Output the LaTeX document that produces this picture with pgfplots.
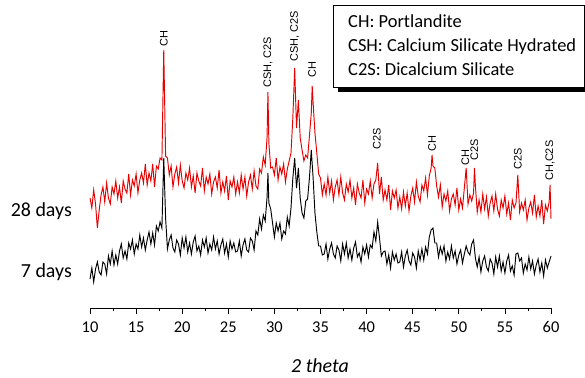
\documentclass[border=0pt]{standalone}
\usepackage{pgfplots}
\pgfplotsset{compat=1.18}
\usepackage{fontspec}
\setmainfont{Carlito}
\newfontfamily\annfont{Liberation Sans}
\definecolor{xrdred}{RGB}{232,0,0}
\begin{document}
\begin{tikzpicture}
\path[use as bounding box] (0,0) rectangle (585bp,378bp);
\begin{axis}[
  at={(90bp,70bp)}, anchor=south west,
  scale only axis, width=461bp, height=308bp,
  xmin=10, xmax=60, ymin=0, ymax=308,
  axis x line*=bottom, axis y line=none,
  axis line style={-, line width=0.8pt, black},
  xtick={10,15,...,60}, minor x tick num=1,
  tick align=outside, major tick length=6bp, minor tick length=3bp,
  tick style={black, line width=0.8pt},
  tick label style={font=\fontsize{16.5}{18}\selectfont},
  xticklabel style={yshift=-4bp},
  /pgf/number format/assume math mode=true,
  clip=false,
]
\addplot[xrdred, line width=0.95pt] coordinates {
(10.0,110)(10.2,100)(10.4,118)(10.6,104)(10.8,80)(11.0,98)(11.2,113)(11.4,121)(11.6,106)(11.8,125)(12.0,110)(12.2,104)(12.4,121)(12.6,114)(12.8,127)(13.0,110)(13.2,121)(13.4,105)(13.6,127)(13.8,119)(14.0,115)(14.2,134)(14.4,113)(14.6,128)(14.8,122)(15.0,134)(15.2,115)(15.4,128)(15.6,135)(15.8,125)(16.0,144)(16.2,123)(16.4,135)(16.6,127)(16.8,144)(17.0,121)(17.2,142)(17.4,139)(17.6,150)(17.8,148)(18.0,258)(18.2,152)(18.4,150)(18.6,133)(18.8,142)(19.0,121)(19.2,134)(19.4,141)(19.6,125)(19.8,143)(20.0,127)(20.2,120)(20.4,135)(20.6,128)(20.8,140)(21.0,121)(21.2,132)(21.4,115)(21.6,135)(21.8,127)(22.0,122)(22.2,140)(22.4,117)(22.6,131)(22.8,124)(23.0,134)(23.2,114)(23.4,126)(23.6,131)(23.8,120)(24.0,138)(24.2,115)(24.4,126)(24.6,117)(24.8,132)(25.0,108)(25.2,127)(25.4,121)(25.6,131)(25.8,114)(26.0,126)(26.2,115)(26.4,133)(26.6,119)(26.8,131)(27.0,112)(27.2,126)(27.4,133)(27.6,119)(27.8,137)(28.0,122)(28.2,119)(28.4,139)(28.6,135)(28.8,151)(29.0,143)(29.2,170)(29.3,216)(29.4,165)(29.6,140)(29.8,141)(30.0,133)(30.2,150)(30.4,128)(30.6,141)(30.8,134)(31.0,144)(31.2,126)(31.4,139)(31.6,147)(31.8,155)(32.0,190)(32.2,240)(32.4,180)(32.6,208)(32.8,170)(33.0,158)(33.2,147)(33.4,153)(33.6,150)(33.8,172)(34.0,195)(34.1,222)(34.2,205)(34.4,175)(34.6,155)(34.8,134)(35.0,130)(35.2,113)(35.4,124)(35.6,113)(35.8,131)(36.0,115)(36.2,127)(36.4,108)(36.6,121)(36.8,128)(37.0,113)(37.2,131)(37.4,115)(37.6,108)(37.8,124)(38.0,116)(38.2,128)(38.4,110)(38.6,120)(38.8,103)(39.0,124)(39.2,115)(39.4,110)(39.6,128)(39.8,105)(40.0,119)(40.2,114)(40.4,127)(40.6,110)(40.8,124)(41.0,128)(41.2,145)(41.4,114)(41.6,131)(41.8,108)(42.0,118)(42.2,108)(42.4,123)(42.6,98)(42.8,117)(43.0,110)(43.2,118)(43.4,100)(43.6,111)(43.8,99)(44.0,116)(44.2,102)(44.4,115)(44.6,97)(44.8,112)(45.0,120)(45.2,106)(45.4,126)(45.6,112)(45.8,106)(46.0,123)(46.2,117)(46.4,130)(46.6,113)(46.8,132)(47.0,140)(47.1,153)(47.2,142)(47.4,140)(47.6,122)(47.8,111)(48.0,123)(48.2,101)(48.4,114)(48.6,107)(48.8,117)(49.0,97)(49.2,109)(49.4,114)(49.6,103)(49.8,120)(50.0,98)(50.2,109)(50.4,100)(50.6,120)(50.8,140)(51.0,104)(51.2,113)(51.4,107)(51.6,115)(51.7,140)(51.8,122)(52.0,96)(52.2,108)(52.4,96)(52.6,114)(52.8,99)(53.0,111)(53.2,92)(53.4,105)(53.6,112)(53.8,97)(54.0,114)(54.2,99)(54.4,92)(54.6,108)(54.8,100)(55.0,112)(55.2,94)(55.4,105)(55.6,88)(55.8,108)(56.0,100)(56.2,105)(56.4,133)(56.6,96)(56.8,105)(57.0,98)(57.2,108)(57.4,88)(57.6,100)(57.8,106)(58.0,95)(58.2,113)(58.4,91)(58.6,102)(58.8,92)(59.0,108)(59.2,84)(59.4,103)(59.6,97)(59.8,106)(59.9,123)(60.0,89)
};
\addplot[black, line width=0.95pt] coordinates {
(10.0,29)(10.2,40)(10.4,26)(10.6,39)(10.8,46)(11.0,36)(11.2,33)(11.4,46)(11.6,44)(11.8,34)(12.0,52)(12.2,44)(12.4,57)(12.6,43)(12.8,53)(13.0,44)(13.2,57)(13.4,64)(13.6,50)(13.8,57)(14.0,49)(14.2,65)(14.4,59)(14.6,68)(14.8,54)(15.0,64)(15.2,59)(15.4,73)(15.6,61)(15.8,70)(16.0,58)(16.2,68)(16.4,76)(16.6,64)(16.8,75)(17.0,63)(17.2,82)(17.4,77)(17.6,86)(17.8,80)(18.0,150)(18.2,90)(18.4,59)(18.6,68)(18.8,73)(19.0,60)(19.2,56)(19.4,68)(19.6,64)(19.8,53)(20.0,70)(20.2,60)(20.4,71)(20.6,56)(20.8,65)(21.0,54)(21.2,66)(21.4,72)(21.6,57)(21.8,62)(22.0,53)(22.2,68)(22.4,61)(22.6,70)(22.8,55)(23.0,64)(23.2,58)(23.4,71)(23.6,59)(23.8,67)(24.0,54)(24.2,63)(24.4,69)(24.6,55)(24.8,64)(25.0,51)(25.2,67)(25.4,59)(25.6,65)(25.8,56)(26.0,57)(26.2,67)(26.4,52)(26.6,63)(26.8,69)(27.0,58)(27.2,56)(27.4,70)(27.6,67)(27.8,58)(28.0,77)(28.2,73)(28.4,89)(28.6,79)(28.8,93)(29.0,87)(29.2,110)(29.3,135)(29.4,105)(29.6,99)(29.8,85)(30.0,71)(30.2,85)(30.4,77)(30.6,85)(30.8,69)(31.0,77)(31.2,74)(31.4,91)(31.6,82)(31.8,100)(32.0,130)(32.2,150)(32.4,120)(32.6,140)(32.8,110)(33.0,95)(33.2,90)(33.4,107)(33.6,109)(33.8,130)(34.0,158)(34.2,130)(34.4,95)(34.6,76)(34.8,62)(35.0,62)(35.2,53)(35.4,54)(35.6,64)(35.8,49)(36.0,59)(36.2,65)(36.4,54)(36.6,50)(36.8,62)(37.0,58)(37.2,47)(37.4,64)(37.6,54)(37.8,65)(38.0,50)(38.2,59)(38.4,48)(38.6,60)(38.8,66)(39.0,51)(39.2,55)(39.4,46)(39.6,61)(39.8,54)(40.0,63)(40.2,51)(40.4,63)(40.6,60)(40.8,76)(41.0,67)(41.2,86)(41.4,70)(41.6,52)(41.8,56)(42.0,57)(42.2,44)(42.4,53)(42.6,40)(42.8,56)(43.0,48)(43.2,54)(43.4,45)(43.6,46)(43.8,56)(44.0,41)(44.2,52)(44.4,58)(44.6,47)(44.8,43)(45.0,55)(45.2,51)(45.4,40)(45.6,57)(45.8,48)(46.0,59)(46.2,48)(46.4,61)(46.6,54)(46.8,71)(47.0,78)(47.2,80)(47.4,65)(47.6,65)(47.8,51)(48.0,61)(48.2,54)(48.4,62)(48.6,47)(48.8,56)(49.0,49)(49.2,62)(49.4,50)(49.6,57)(49.8,44)(50.0,53)(50.2,58)(50.4,45)(50.6,54)(50.8,62)(51.0,56)(51.2,53)(51.4,64)(51.6,68)(51.8,50)(52.0,41)(52.2,51)(52.4,36)(52.6,47)(52.8,52)(53.0,41)(53.2,37)(53.4,49)(53.6,45)(53.8,34)(54.0,51)(54.2,41)(54.4,52)(54.6,37)(54.8,46)(55.0,35)(55.2,47)(55.4,53)(55.6,37)(55.8,42)(56.0,33)(56.2,54)(56.4,55)(56.6,47)(56.8,50)(57.0,35)(57.2,44)(57.4,38)(57.6,51)(57.8,39)(58.0,47)(58.2,34)(58.4,43)(58.6,49)(58.8,36)(59.0,45)(59.2,32)(59.4,48)(59.6,40)(59.8,46)(60.0,52)
};
\begin{scope}[every node/.style={rotate=90, anchor=west, inner sep=0pt, font=\annfont\fontsize{11}{12}\selectfont}]
\node at (axis cs:18.0,261) {CH};
\node at (axis cs:29.3,220) {CSH, C2S};
\node at (axis cs:32.2,246) {CSH, C2S};
\node at (axis cs:34.1,230) {CH};
\node at (axis cs:41.1,158) {C2S};
\node at (axis cs:47.1,156) {CH};
\node at (axis cs:50.7,142) {CH};
\node at (axis cs:51.7,147) {C2S};
\node at (axis cs:56.4,138) {C2S};
\node at (axis cs:59.9,127) {CH,C2S};
\end{scope}
\end{axis}
\fill[black] (338bp,286bp) rectangle (592bp,368bp);
\filldraw[fill=white, draw=black, line width=0.6pt] (333bp,291bp) rectangle (584bp,373bp);
\begin{scope}[every node/.style={anchor=base west, inner sep=0pt, font=\fontsize{18.5}{20}\selectfont}]
\node at (348bp,350bp) {CH: Portlandite};
\node at (348bp,326bp) {CSH: Calcium Silicate Hydrated};
\node at (348bp,302bp) {C2S: Dicalcium Silicate};
\end{scope}
\node[anchor=base east, inner sep=0pt, font=\fontsize{20}{22}\selectfont] at (72bp,161bp) {28 days};
\node[anchor=base east, inner sep=0pt, font=\fontsize{20}{22}\selectfont] at (72bp,100bp) {7 days};
\node[anchor=base, inner sep=0pt, font=\fontsize{20}{22}\selectfont\itshape] at (320bp,6bp) {2 theta};
\end{tikzpicture}
\end{document}
